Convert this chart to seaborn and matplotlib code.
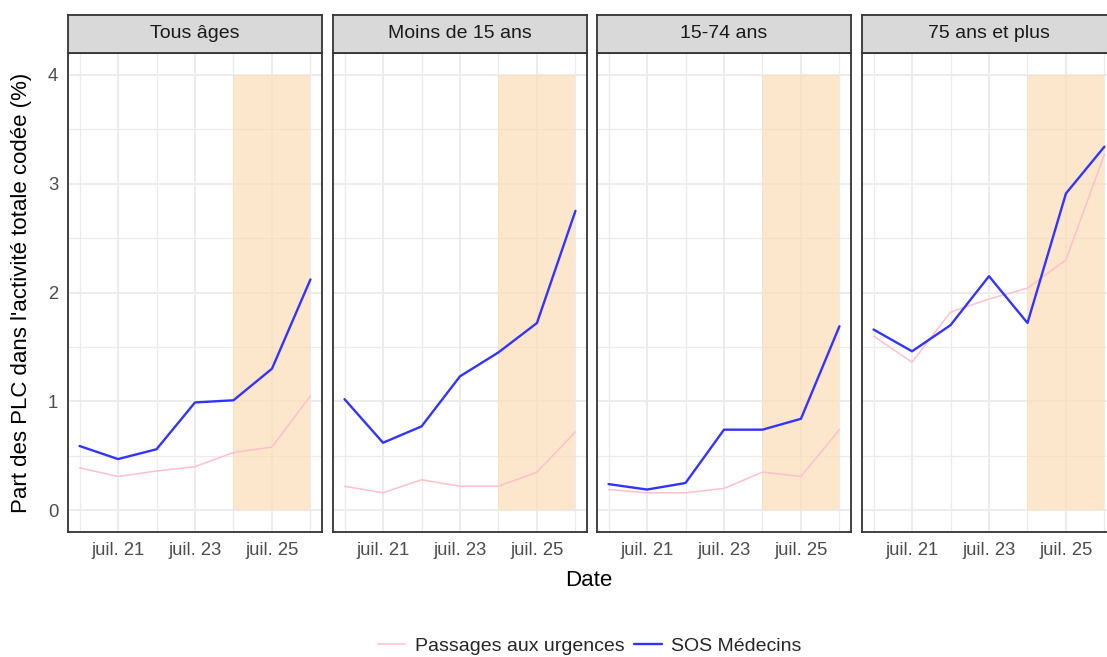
import matplotlib
matplotlib.use("Agg")
import matplotlib.pyplot as plt
from matplotlib.lines import Line2D
import seaborn as sns
import pandas as pd

# Data (daily, 20 to 26 July)
dates = pd.date_range("2023-07-20", "2023-07-26", freq="D")
panels = ["Tous âges", "Moins de 15 ans", "15-74 ans", "75 ans et plus"]
sources = ["Passages aux urgences", "SOS Médecins"]

urg_tous = [0.39, 0.31, 0.36, 0.40, 0.53, 0.58, 1.05]
sos_tous = [0.59, 0.47, 0.56, 0.99, 1.01, 1.30, 2.12]
urg_moins15 = [0.22, 0.16, 0.28, 0.22, 0.22, 0.35, 0.72]
sos_moins15 = [1.02, 0.62, 0.77, 1.23, 1.45, 1.72, 2.75]
urg_15_74 = [0.19, 0.16, 0.16, 0.20, 0.35, 0.31, 0.74]
sos_15_74 = [0.24, 0.19, 0.25, 0.74, 0.74, 0.84, 1.69]
urg_75 = [1.60, 1.36, 1.82, 1.94, 2.04, 2.30, 3.27]
sos_75 = [1.66, 1.46, 1.70, 2.15, 1.72, 2.91, 3.34]

shade_start = pd.Timestamp("2023-07-24")
shade_end = pd.Timestamp("2023-07-26")
shade_top = 4

series = {
    "Tous âges": (urg_tous, sos_tous),
    "Moins de 15 ans": (urg_moins15, sos_moins15),
    "15-74 ans": (urg_15_74, sos_15_74),
    "75 ans et plus": (urg_75, sos_75),
}

rows = []
for p in panels:
    urg, sos = series[p]
    for d, u, s in zip(dates, urg, sos):
        rows.append({"panel": p, "date": d, "source": sources[0], "value": u})
        rows.append({"panel": p, "date": d, "source": sources[1], "value": s})
df = pd.DataFrame(rows)

palette = {sources[0]: "#FFC0CB", sources[1]: "#3333FF"}
sizes = {sources[0]: 1.1, sources[1]: 1.7}

sns.set_style("white")
plt.rcParams["font.family"] = ["Liberation Sans", "DejaVu Sans"]

W, H = 1107, 657
fig = plt.figure(figsize=(W / 100, H / 100), dpi=100)

# panel geometry in pixels (the last panel runs past the right edge, as in the reference)
lefts = [68, 333, 597, 862]
pw = 254
p_top, p_bot = 53, 532
s_top = 15
edge = "#333333"

day = pd.Timedelta(days=1)
xmin = dates[0] - 0.3 * day
xmax = dates[-1] + 0.3 * day
major_days = [dates[1], dates[3], dates[5]]
minor_days = [dates[0], dates[2], dates[4], dates[6]]

for i, p in enumerate(panels):
    ax = fig.add_axes([lefts[i] / W, (H - p_bot) / H, pw / W, (p_bot - p_top) / H])
    ax.set_axisbelow(True)
    ax.fill_between([shade_start, shade_end], 0, shade_top,
                    color="#FCDDB8", alpha=0.7, lw=0, zorder=1.5)
    sub = df[df["panel"] == p]
    sns.lineplot(data=sub, x="date", y="value", hue="source", size="source",
                 palette=palette, sizes=sizes, legend=False, ax=ax, zorder=3)

    ax.set_xlim(xmin, xmax)
    ax.set_ylim(-0.2, 4.2)
    ax.set_xticks(major_days)
    ax.set_xticks(minor_days, minor=True)
    ax.set_xticklabels([f"juil. {d.day}" for d in major_days])
    ax.set_yticks([0, 1, 2, 3, 4])
    ax.set_yticks([0.5, 1.5, 2.5, 3.5], minor=True)
    ax.grid(which="major", color="#EBEBEB", lw=1.3)
    ax.grid(which="minor", color="#EBEBEB", lw=0.9)
    ax.tick_params(axis="both", which="major", length=4, width=1,
                   color=edge, labelsize=13.3, labelcolor="#4D4D4D", pad=3)
    ax.tick_params(axis="both", which="minor", length=0)
    if i > 0:
        ax.tick_params(axis="y", which="both", length=0, labelleft=False)
    ax.set_xlabel("")
    ax.set_ylabel("")
    for sp in ax.spines.values():
        sp.set_color(edge)
        sp.set_linewidth(1.3)

    # facet strip
    sax = fig.add_axes([lefts[i] / W, (H - p_top) / H, pw / W, (p_top - s_top) / H])
    sax.set_facecolor("#D9D9D9")
    sax.set_xticks([])
    sax.set_yticks([])
    for sp in sax.spines.values():
        sp.set_color(edge)
        sp.set_linewidth(1.3)
    sax.text(0.5, 0.5, p, ha="center", va="center", fontsize=14,
             color="#1A1A1A", transform=sax.transAxes)

fig.text(22 / W, (H - (p_top + p_bot) / 2) / H,
         "Part des PLC dans l'activité totale codée (%)",
         rotation=90, ha="center", va="center", fontsize=16, color="black")
fig.text(589 / W, (H - 581) / H, "Date", ha="center", va="center",
         fontsize=16, color="black")

handles = [Line2D([], [], color=palette[s], lw=sizes[s]) for s in sources]
fig.legend(handles, sources, loc="center", bbox_to_anchor=(590 / W, (H - 646) / H),
           ncol=2, frameon=False, fontsize=14, handlelength=1.4,
           columnspacing=0.5, handletextpad=0.5)

fig.savefig("out.png", dpi=100)
